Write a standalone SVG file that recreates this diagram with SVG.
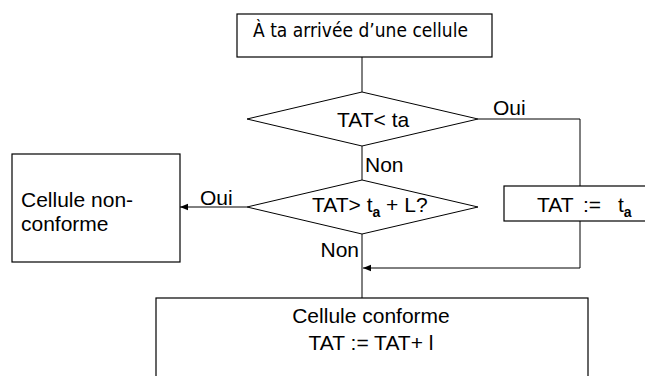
<svg xmlns="http://www.w3.org/2000/svg" width="645" height="376" viewBox="0 0 645 376">
<defs>
<style>
.box{fill:#fff;stroke:#000;stroke-width:1.2}
.dia{fill:#fff;stroke:#000;stroke-width:1}
.ln{fill:none;stroke:#000;stroke-width:1}
.t{font-family:"Liberation Sans",Arial,sans-serif;font-size:21px;fill:#000}
.c{font-family:"DejaVu Sans",sans-serif;font-size:20px;fill:#000}
.sub{font-size:14px;font-weight:bold}
</style>
<marker id="arr" viewBox="0 0 10 10" refX="10" refY="5" markerWidth="8" markerHeight="8" markerUnits="userSpaceOnUse" orient="auto">
<path d="M0,1 L10,5 L0,9 z" fill="#000"/>
</marker>
</defs>
<rect width="645" height="376" fill="#fff"/>
<g id="connectors">
<line class="ln" x1="362" y1="57" x2="362" y2="92"/>
<polyline class="ln" points="478,119 580,119 580,186"/>
<line class="ln" x1="362" y1="146" x2="362" y2="180"/>
<polyline class="ln" points="580,221 580,268 363,268" marker-end="url(#arr)"/>
<line class="ln" x1="247" y1="207" x2="180" y2="207" marker-end="url(#arr)"/>
<line class="ln" x1="362" y1="234" x2="362" y2="298"/>
<text class="t" x="493" y="115">Oui</text>
<text class="t" x="365" y="172">Non</text>
<text class="t" x="200" y="205">Oui</text>
<text class="t" x="359" y="257" text-anchor="end">Non</text>
</g>
<g id="start">
<rect class="box" x="237" y="14" width="255" height="43"/>
<text class="c" x="253" y="37" textLength="215" lengthAdjust="spacingAndGlyphs">À ta arrivée d’une cellule</text>
</g>
<g id="dec1">
<polygon class="dia" points="362,92 478,119 362,146 247,119"/>
<text class="t" x="337" y="127">TAT&lt; ta</text>
</g>
<g id="dec2">
<polygon class="dia" points="362,180 478,207 362,234 247,207"/>
<text class="t" x="312" y="212">TAT&gt; t<tspan class="sub" dy="5">a</tspan><tspan dy="-5"> + L?</tspan></text>
</g>
<g id="nonconf">
<rect class="box" x="12" y="154" width="168" height="108"/>
<text class="t" x="21" y="207">Cellule non-</text>
<text class="t" x="21" y="231">conforme</text>
</g>
<g id="assign">
<rect class="box" x="504" y="186" width="150" height="35" stroke="#444"/>
<text class="t" x="537" y="212">TAT</text>
<text class="t" x="583" y="212">:=</text>
<text class="t" x="618" y="212">t<tspan class="sub" dy="5">a</tspan></text>
</g>
<g id="conf">
<rect class="box" x="156" y="298" width="432" height="90"/>
<text class="t" x="371" y="323" text-anchor="middle">Cellule conforme</text>
<text class="t" x="371" y="350" text-anchor="middle">TAT := TAT+ l</text>
</g>
</svg>
